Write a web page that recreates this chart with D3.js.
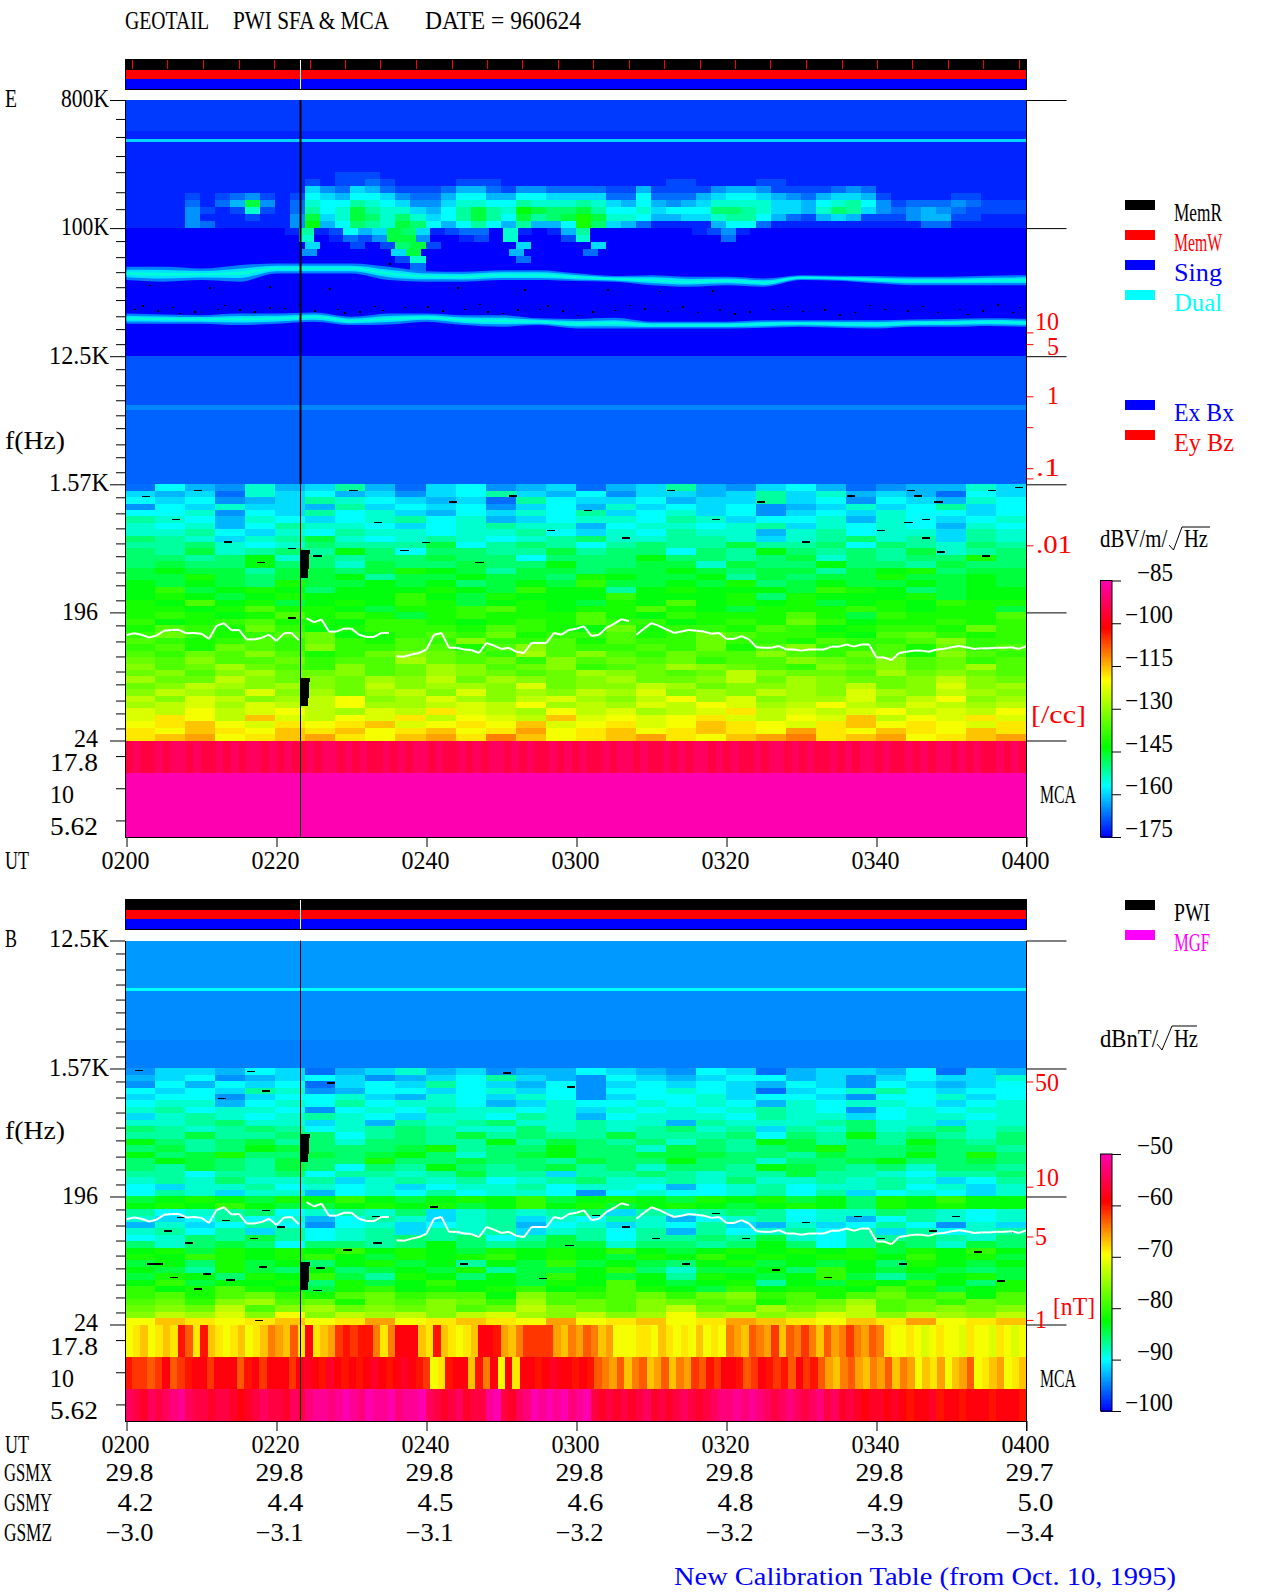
<!DOCTYPE html>
<html lang="en">
<head>
<meta charset="UTF-8">
<title>GEOTAIL PWI SFA & MCA 960624</title>
<script src="https://d3js.org/d3.v7.min.js"></script>
<style>
  body { margin: 0; background: #fff; }
  svg { display: block; }
  text { font-family: "Liberation Serif", serif; font-size: 25px; fill: #000; }
</style>
</head>
<body>
<svg id="chart" width="1280" height="1593"></svg>
<script>
// ---- values ----
const utTicks = [0, 20, 40, 60, 80, 100, 120];            // minutes after 0200
const utLabels = ["0200", "0220", "0240", "0300", "0320", "0340", "0400"];
const gsmx = ["29.8", "29.8", "29.8", "29.8", "29.8", "29.8", "29.7"];
const gsmy = ["4.2", "4.4", "4.5", "4.6", "4.8", "4.9", "5.0"];
const gsmz = ["−3.0", "−3.1", "−3.1", "−3.2", "−3.2", "−3.3", "−3.4"];

const majorHz = [800000, 100000, 12500, 1562.5, 195.3, 24.41];
const topMinorHz = [588000, 439000, 322000, 248000, 179000, 136000];
const octaveMinorRatio = [.81, .624, .489, .383, .311, .239, .194, .152];
const mcaRows = ["17.8", "10", "5.62"];

const statusTicks = [.8, 5.5, 10.3, 15, 19.7, 24.5, 29.2, 33.9, 38.6, 43.4, 48.1, 52.8, 57.6, 62.3, 67, 71.7, 76.5, 81.2, 85.9, 90.7, 95.4, 100.1, 104.8, 109.6, 114.3, 119];
const gapMinute = 23.2;

// density scale on the right, given as the frequency each mark sits at
const eDensityLabels = ["10", "5", "1", ".1", ".01"];
const eDensityHz = [18400, 15200, 6520, 2030, 580];
const eDensityExtraHz = [3950, 1720];
const bFieldLabels = ["50", "10", "5", "1"];
const bFieldHz = [1265, 229, 102, 26.3];

// plasma line, one value a minute (Hz)
const plasmaHz = [135,139,136,130,134,145,147,147,139,140,138,127,157,164,146,147,126,126,129,136,123,139,140,124,
  178,166,174,143,143,150,150,136,131,131,140,140,96,95,98.5,101,107,136,140,110,110,107,106,101,119,114,108,110,103,101,119,119,119,140,136,147,150,
  156,133,136,152,162,175,169,136,150,164,157,148,140,143,147,145,143,138,140,127,127,133,126,111,110,110,113,107,107,105,107,107,107,112,112,116,112,116,116,
  94,94,90,101,103,105,105,103,107,108,111,113,111,108,109,109,110,110,111,108,113];

// data gaps: start, end minute, upper, lower Hz
const gapStart = [23.2, 23.2, 23.2, 23.2, 23.2, 23.2];
const gapEnd = [24.47, 24.33, 24.2, 24.47, 24.33, 24.2];
const gapHi = [542, 508, 392, 67.8, 63.5, 49];
const gapLo = [508, 392, 344, 63.5, 49, 42.9];

// narrow-band traces in the E panel, one value every 5 minutes (kHz)
const traceMinutes = [0,5,10,15,20,25,30,35,40,45,50,55,60,65,70,75,80,85,90,95,100,105,110,115,120];
const upperHi = [53.3,53.3,51.9,54.8,56.3,56.3,56.3,53.3,49.7,49.2,50.5,50.5,48,46,46.6,45.4,45.4,44.2,46.6,46.1,45.9,45.4,45.4,46.1,46.6];
const upperLo = [43,41.9,43,41.9,47.9,47.9,47.9,43,41.9,41.9,43,43,42.3,41.9,39.6,38.6,39.6,38.6,43,42.5,40.8,39.6,39.6,39.6,39.6];
const lowerHi = [25,24.6,24.3,25,25,25.4,23.7,25,25,24.3,24.3,23.1,22.9,23.3,21.9,21.9,21.9,22.4,22.4,22.4,22.4,22.7,22.9,23.1,22.9];
const lowerLo = [21.2,21.2,21.2,20.7,21.2,21.9,20.7,20.9,21.9,20.7,20.15,20.7,19.6,19.6,19.6,19.6,19.6,19.8,20.15,19.8,19.6,20.15,20.15,20.4,20.15];

// constant bands: edges in Hz and the level between them in dB
const eBandEdges = [800000, 483000, 424000, 404000, 278000, 12500, 5640, 5200, 1562.5];
const eBandDb = [-171, -172.5, -160, -172.5, -175, -169, -165.5, -168];
const bBandEdges = [12500, 5780, 5500, 2480, 1562.5];
const bBandDb = [-94, -90, -94.5, -95];

// level cells are one base-36 character each: 0 = bottom of the colour bar, z = top
// emission between 278 kHz and 50.6 kHz, 2 minutes a column
const emissionHi = 278000, emissionLo = 50600;
const emissionRows = [
  "111111111111111111111111111111111111111111111111111111111111",
  "111111111111112221111111111111111111111111111111111111111111",
  "111111111111212232111122211111111111221111221111111111111111",
  "111111111111643653222355324433332252222455422223431111111111",
  "111121234212765776433577557766663373335677654356652111122111",
  "111131 35b41387798764468877988898657545688886657897423334 3222",
  "111142128213978b9886579b98cbaab97786777aa986658a964345432222",
  "111141112114b68ba8a8679b97b9abdb887556689975325652224552 2111",
  "111143111114c57a98ba7579759557da65311115773111111111133 11111",
  "000000000001912756ba612330810159000000012410000000000000000000",
  "000000000000801324bb400120800028000000000300000000000000000000",
  "000000000000600202ab2000006000060000000000000000000000000000",
  "00000000000040000 06b00000050000300000000000000000000000000000",
  "000000000000000000280000003000000000000000000000000000000000",
  "000000000000000000030000000000000000000000000000000000000000"
].map(s => s.replace(/ /g, ""));

// 1.57 kHz down to 24 Hz, 4 minutes a column
const eLowRows = [
  "375485695367456356954675345586","656386756467965746656968565376","767456987656397667566967476587","476866596767467586767456867967",
  "778476978657687967867467687767","987587678978567887986778587678","878579887678988578878968787587","889768798878897687988589788698",
  "a98689b87898789a88998689a89698","99a878a999b79a979a99b99a7a98a9","a9b89a9ca7aa99b9aa7a9ca9a9b89a","aa9ac8a9aabaa7aaacaa9ab8a9aada",
  "abaacaa8baabaacaabb8baacaa9baa","bcbb9bbabdcb9bbabbcbabb9bcdabb","bbdbabbc9bbcbbadcbbc9babbdbbcb","cbcbadbbcbcabcbebbcbdabcbbcbcb",
  "cebcdcacccdcbecc9cdcccbedcabcc","cdcbcdcccecbdcccecccdadcccdbcc","dcfcdbcdcedbcdcbdcfcdcdbcdcedd","ddcdfddcbddefdcddfdcbdddedcddb",
  "dedcdfdedbdedddfdcedddfdbedddf","ecdefddceedcdedfeecdedgecddede","dfedgecdeeedfedcgdeedfecdeedge","egedefgcdefegdeefdegfeedcfgede",
  "fedefegedfeheefdfeegeedfeefhee","efdgfeheeffdfhfeefegdfheefdgef","fegfhfdeghgfeifhfegffhfegfdhfe","gfhffgeffigfgehfgfgeffhgfhfgef",
  "hfgigfehfgihfghefgihgfehghfgif","ghfhigghfgihgfgihgfgjhggfighgf","iggjhghgihjgihghigghjgihgghjhg","ghjihihgjhiihkghhjighhihjghkhi",
  "hjihkhigijhkhihjikhihjihkihjih","jhkjhijlhikihjkihjlikhiikhjlhi","ijkikjjliijkjlijikjlkijljikjij","kjljkljikjmkjiljkijkmjkjkljkjl",
  "kmljnkjlkmjlkjnklklmkjlknjlkmk","lmnlkmlmnklmlnklmklnmlkmnlmlkm","mlnmlnmnlmnlmolmnlmnmlomlnmlnm","mnolmnomlnompnlmnomlnopmnolmno"
];
const bLowRows = [
  "466576356856455765476356657365","567456764567965476567756467668","475767367697657467676576476567","767698457767867477876367897677",
  "677467786587687467786776477867","788578797887568778787587887678","897887478798878687878987478788","689878987688798578887988678878",
  "889a88685989a88988598889a88688","a989a9789a988a8989a89698a89a89","99b99aa79a9b9a99b999a7a9c9a98a","ca9ab9a8aa99c9ba9a8a9cb9a9ca9a",
  "ab9acbaaabd9aacaa8ba9abdaabaa9","cabdaababca8abcaabbbaa9baacada","acba9baadaabaa9baacaa8aabcaaba","a9ba9ba7a9ca9ab9a8aa9cba9a8aa9",
  "99799a79989b99699a9899b998799a","898a88968989789a8898a889898679","768897878678897887578978897868","798688578797887478778979678768",
  "bcdcbdcecbcdcebcdcbdcdbcadcecc","cdcecbbcdcdbcecdbcdcbcdcadcdcc","9789a7898a68989a6989a9788a9878","867978579868968798578978579878",
  "586797478678957868796586797486","897969789698968979597897969789","78a9b9789a9a79b9799a9b8799a98a","a8aba7aa9aca9abb8aa9aca79ba8ba",
  "cdbdcdcecdcbdcdcecbcdcdcdbdcec","dcedcdecbdcdecdcbdcecdcddcecdb","bcadbcacdbc9cbebcbacdbcbcadcbc","cb9dbacabcbd9bbcea8bbcaecbcbab",
  "bdcadceb9dcacbecbc9dcbceb9bcdb","cebccdadbceccbdcfcbcd9cbdcecad","ecdfdcbdecdcdecdfdcbecddcfdbcd","efdfgedfgeffchfefgeghefdfgefcf",
  "fgehifgdgfhgeifgfhgfgdfgifgegf","ghgjfhighghfgjhgfhjgfighjfghgh","hjikhlhjijhjkihjhilijhikjhjihj","lnmlmnlmolmnmlolmnlmonmlnmolmn"
];

// MCA channels, one character a column
const eMcaRows = [
  "vwvvwvwwvwvvwvwvwwvwvwvvwvwwvwvwvvwvwvwwvwvvwvwvwwvwvwvvwvwvwvvwvwwvwvvwvwvwwvwvwvvwvwwvwvwvvwvwvwwvwvvwvwvwwvwvwvvwvwv",
  "zzzzzzzzzzzzzzzzzzzzzzzzzzzzzzzzzzzzzzzzzzzzzzzzzzzzzzzzzzzz",
  "zzzzzzzzzzzzzzzzzzzzzzzzzzzzzzzzzzzzzzzzzzzzzzzzzzzzzzzzzzzz"
];
const bMcaRows = [
  "lmnlmnmsqmsnmlmnlmnponqmtmnorsrsspmptttnmsnmlmnttsonprrrronpoqpnolllmmlnmlmlnlmlponqpornqprpnqoprpoqpmllmlklmllkmllkmlkl",
  "srrqrtqrsttrtttqstrtttrtutsutststutstutsrlmsttnsptltmttstuttstsqpoqnpqnoqnporqsrttsqrtsrsqtrsqonpqonpoqnpolnmolnoqlmnolmn",
  "wvuwvwxywvvuvvutuvwvvuwvxyyxyzyxzyyzxyyzwvuvwuvvyzvuwxzyzyzxyzvuvuvuvwuvuvwvuvwxxyxyxwvwxwvwxvwuvutuututsttusttstttsttts"
];

// black specks near the E traces: minute, Hz
const speckMinute = [1,4,6,9,12,15,17,21,25,28,31,34,37,42,45,48,52,55,58,62,65,69,72,76,79,83,86,90,93,97,101,104,108,111,114,118,3,11,19,27,35,44,53,64,71,78,
  2,7,13,19,23,29,33,40,47,50,56,60,67,74,81,88,95,99,106,112,116,119];
const speckHz = [27100,26300,27800,25900,27100,26700,26000,27500,26300,27100,25900,26600,27800,26300,27100,25900,26700,27000,26300,26000,26600,27300,26200,25700,26700,25900,27000,26200,26800,25800,27100,26400,25700,26900,26300,25800,40000,38200,39000,37600,56500,38400,37200,37000,36300,36600,
  28600,25400,28900,27700,29000,25600,28300,28100,29200,25300,28500,24500,28700,28200,25000,28400,24600,28800,28300,24900,29100,28000];

// short black dashes in the low-frequency streaks: minute, Hz
const eDashMinute = [2,6,9,13,17.4,21.5,24.9,29.7,33,36.5,39.4,43,46.5,51,56,61,66,72,78,84,90,96,100,104,105,107.7,114.8,118.4,103.7,106,108,114,106,21.5];
const eDashHz = [1300,895,1434,620,446,559,493,1434,853,542,617,1182,446,1303,750,1035,659,1434,895,1182,620,1303,750,1434,1303,1182,1434,1500,853,895,525,493,659,180];
const bDashMinute = [1.1,16,12.2,26.7,50.2,58.7,18,18,12.7,5,7.8,16.4,2.7,3.8,5.8,13.3,10.2,17.6,58.5,32.7,40.4,25.3,24.9,17.1,44.4,28.9,32.9,62,66,70,74,78,82,86,90,93,97,100,103,107,110,113,116,118,55,6.7,9,20];
const bDashHz = [1533,1508,975,1253,1476,1169,1096,157,134,113,93,100,66,66,53,51,56,63,89,143,167,62,43,26.3,66,83,93,145,120,100,66,150,100,60,130,53,143,100,66,113,143,80,50,110,52,140,44,120];

// ---- layout ----
const svg = d3.select("#chart");
const plotLeft = 125, plotRight = 1026.5;
const x = d3.scaleLinear().domain([0, 120]).range([126.5, 1026.5]);
const cellColor = d3.scaleLinear()
  .domain([0, .2, .35, .61, .815, 1])
  .range(["#0000ff", "#00ffff", "#00ff00", "#ffff00", "#ff0000", "#ff00b0"]);

// monospaced looking label, y is the middle of the figures
function label(g, px, py, str, opt = {}) {
  const w = str.length * (opt.cell || 12);
  const left = opt.end ? px - w : px;
  return g.append("text").attr("x", left).attr("y", py + 8.5)
    .attr("textLength", w).attr("lengthAdjust", "spacingAndGlyphs")
    .style("fill", opt.fill || "#000").text(str);
}

function heat(g, rows, y0, y1, left = plotLeft, right = plotRight) {
  const rowBand = d3.scaleBand().domain(d3.range(rows.length)).range([y0, y1]);
  rows.forEach((row, i) => {
    const cols = Array.from(row);
    const colBand = d3.scaleBand().domain(d3.range(cols.length)).range([left, right]);
    g.append("g").selectAll("rect").data(cols).join("rect")
      .attr("x", (d, j) => colBand(j)).attr("y", rowBand(i))
      .attr("width", colBand.bandwidth() + .5).attr("height", rowBand.bandwidth() + .5)
      .attr("fill", d => cellColor(parseInt(d, 36) / 35));
  });
}

function statusBar(top, withTicks) {
  const g = svg.append("g").attr("shape-rendering", "crispEdges");
  [["#000", 0, 10.5], ["#f00", 10.5, 20], ["#00f", 20, 30]].forEach(b => {
    g.append("rect").attr("x", plotLeft).attr("y", top + b[1]).attr("width", plotRight - plotLeft)
      .attr("height", b[2] - b[1]).attr("fill", b[0]);
  });
  g.append("rect").attr("x", plotLeft).attr("y", top).attr("width", plotRight - plotLeft).attr("height", 30.5)
    .attr("fill", "none").attr("stroke", "#000");
  if (withTicks) g.selectAll(".st").data(statusTicks).join("line")
    .attr("x1", d => x(d)).attr("x2", d => x(d)).attr("y1", top + 1).attr("y2", top + 10)
    .attr("stroke", "#f00");
  g.append("line").attr("x1", x(gapMinute)).attr("x2", x(gapMinute)).attr("y1", top + 1).attr("y2", top + 30)
    .attr("stroke", "#fff");
}

function panel(cfg) {
  const y = cfg.y, g = svg.append("g");
  const cells = g.append("g").attr("shape-rendering", "crispEdges");
  const mcaBottom = cfg.bottom, mcaTop = y(majorHz[5]);
  const dbColor = d => cellColor((d - cfg.dbMin) / (cfg.dbMax - cfg.dbMin));

  // constant bands
  cells.selectAll(".band").data(cfg.bandDb).join("rect")
    .attr("x", plotLeft).attr("width", plotRight - plotLeft)
    .attr("y", (d, i) => y(cfg.bandEdges[i])).attr("height", (d, i) => y(cfg.bandEdges[i + 1]) - y(cfg.bandEdges[i]))
    .attr("fill", dbColor);

  if (cfg.extra) cfg.extra(g, cells, dbColor);
  heat(cells, cfg.lowRows, y(majorHz[3]), mcaTop);

  // MCA
  const mca = d3.scaleBand().domain(mcaRows).range([mcaTop, mcaBottom]);
  heat(cells, cfg.mcaRows, mcaTop, mcaBottom);

  // black dashes and data gaps
  cells.selectAll(".dash").data(cfg.dashMinute).join("rect")
    .attr("x", d => x(d)).attr("y", (d, i) => y(cfg.dashHz[i]))
    .attr("width", x(1.1) - x(0)).attr("height", 1.5).attr("fill", "#000");
  cells.selectAll(".gap").data(gapStart).join("rect")
    .attr("x", d => x(d)).attr("width", (d, i) => x(gapEnd[i]) - x(d))
    .attr("y", (d, i) => y(gapHi[i])).attr("height", (d, i) => y(gapLo[i]) - y(gapHi[i]))
    .attr("fill", "#000");

  // plasma line, broken where it jumps
  const pts = plasmaHz.map((f, i) => [i, f]);
  g.append("g").selectAll("line").data(d3.pairs(pts).filter(p => Math.abs(p[0][1] - p[1][1]) < 32)).join("line")
    .attr("x1", p => x(p[0][0])).attr("y1", p => y(p[0][1]))
    .attr("x2", p => x(p[1][0])).attr("y2", p => y(p[1][1]))
    .attr("stroke", "#fff").attr("stroke-width", 2);

  // gap line through the panel
  g.append("line").attr("x1", x(gapMinute)).attr("x2", x(gapMinute))
    .attr("y1", y(majorHz[cfg.firstMajor])).attr("y2", y(cfg.thickTo)).attr("stroke", "#000").attr("stroke-width", cfg.gapWidth);
  g.append("line").attr("x1", x(gapMinute)).attr("x2", x(gapMinute))
    .attr("y1", y(cfg.thickTo)).attr("y2", mcaBottom).attr("stroke", "#000");

  // frame
  const frame = g.append("g").attr("shape-rendering", "crispEdges").attr("stroke", "#000");
  frame.append("line").attr("x1", plotLeft).attr("x2", plotLeft).attr("y1", y(majorHz[cfg.firstMajor])).attr("y2", mcaBottom);
  frame.append("line").attr("x1", plotRight).attr("x2", plotRight).attr("y1", y(majorHz[cfg.firstMajor])).attr("y2", mcaBottom + 10);
  frame.append("line").attr("x1", plotLeft).attr("x2", plotRight).attr("y1", mcaBottom).attr("y2", mcaBottom);

  // frequency axes
  const majors = majorHz.slice(cfg.firstMajor);
  const octaves = majors.slice(cfg.topMinor.length ? 1 : 0, -1);
  const minors = cfg.topMinor.concat(octaves.flatMap(m => octaveMinorRatio.map(r => m * r)));
  const left = g.append("g").attr("transform", `translate(${plotLeft},0)`);
  left.append("g").call(d3.axisLeft(y).tickValues(majors).tickSize(15).tickFormat(""));
  left.append("g").call(d3.axisLeft(y).tickValues(minors).tickSize(9).tickFormat(""));
  left.append("g").call(d3.axisLeft(mca).tickSize(9).tickFormat(""));
  left.selectAll(".domain").remove();
  g.append("g").attr("transform", `translate(${plotRight},0)`)
    .call(d3.axisRight(y).tickValues(majors).tickSize(40).tickFormat(""))
    .select(".domain").remove();

  // time axis
  const ax = g.append("g").attr("transform", `translate(0,${mcaBottom})`)
    .call(d3.axisBottom(x).tickValues(utTicks).tickSize(10).tickFormat(""));
  ax.select(".domain").remove();
  utLabels.forEach((s, i) => label(g, x(utTicks[i]) - 25, mcaBottom + 23, s));
  label(g, 5, mcaBottom + 23, "UT");

  // frequency labels
  cfg.freqLabels.forEach(d => label(g, d.px, d.py, d.s, { end: d.end }));
  mcaRows.forEach((s, i) => {
    const py = mca(s) + mca.bandwidth() / 2 + 5.5;
    if (i === 0) label(g, 98, py, s, { end: true }); else label(g, 50, py, s);
  });
  label(g, 5, cfg.fLabelY, "f(Hz)");
  label(g, 5, cfg.nameY, cfg.name);
  label(g, 1040, cfg.mcaLabelY, "MCA");

  // density or field marks on the right
  const marks = g.append("g").attr("transform", `translate(${plotRight},0)`);
  marks.append("g").call(d3.axisRight(y).tickValues(cfg.markHz).tickSize(7).tickFormat(""))
    .call(s => s.select(".domain").remove())
    .selectAll("line").attr("stroke", "#f00");
  cfg.markLabels.forEach((s, i) => label(g, cfg.markX[i], y(cfg.markLabelHz[i]) + cfg.markDy[i], s, { fill: "#f00" }));

  // colour bar
  const bar = d3.scaleLinear().domain([cfg.dbMax, cfg.dbMin]).range([cfg.barTop, cfg.barBottom]);
  const step = (cfg.dbMax - cfg.dbMin) / 200;
  g.append("g").attr("shape-rendering", "crispEdges").selectAll("rect").data(d3.range(cfg.dbMin, cfg.dbMax, step)).join("rect")
    .attr("x", 1101).attr("width", 11).attr("y", d => bar(d + step)).attr("height", bar(0) - bar(step) + .7).attr("fill", dbColor);
  g.append("rect").attr("x", 1100.5).attr("y", cfg.barTop).attr("width", 11.5).attr("height", cfg.barBottom - cfg.barTop)
    .attr("fill", "none").attr("stroke", "#000");
  g.append("g").attr("transform", "translate(1112,0)")
    .call(d3.axisRight(bar).tickValues(cfg.barTicks).tickSize(9).tickFormat(""))
    .select(".domain").remove();
  cfg.barTicks.forEach(t => label(g, 1173, bar(t) - 8.5, "−" + Math.abs(t), { end: true }));
}

// ---- title, status bars, legends ----
const titleG = svg.append("g");
label(titleG, 125, 20, "GEOTAIL");
label(titleG, 233, 20, "PWI SFA & MCA");
label(titleG, 425, 20, "DATE = 960624");
statusBar(59, true);
statusBar(899, false);

const legendNames = ["MemR", "MemW", "Sing", "Dual", "Ex Bx", "Ey Bz", "PWI", "MGF"];
const legendColors = ["#000", "#f00", "#00f", "#0ff", "#00f", "#f00", "#000", "#f0f"];
const legendY = [205, 235, 265, 295, 405, 435, 905, 935];
legendNames.forEach((s, i) => {
  svg.append("rect").attr("x", 1125).attr("y", legendY[i] - 5).attr("width", 30).attr("height", 10).attr("fill", legendColors[i]);
  label(svg, 1174, legendY[i] + 7, s, { fill: legendColors[i] });
});

// ---- E panel ----
const yE = d3.scaleLog().domain([800000, 24.41]).range([100, 740.5]);
panel({
  name: "E", nameY: 98, y: yE, bottom: 837, firstMajor: 0, topMinor: topMinorHz,
  bandEdges: eBandEdges, bandDb: eBandDb, lowRows: eLowRows, mcaRows: eMcaRows,
  dashMinute: eDashMinute, dashHz: eDashHz, dbMin: -175, dbMax: -85,
  barTop: 580.5, barBottom: 837, barTicks: [-85, -100, -115, -130, -145, -160, -175],
  thickTo: 1562.5, gapWidth: 2, fLabelY: 440, mcaLabelY: 794,
  freqLabels: [
    { s: "800K", px: 109, py: 98, end: true }, { s: "100K", px: 109, py: 226, end: true },
    { s: "12.5K", px: 109, py: 355, end: true }, { s: "1.57K", px: 109, py: 482, end: true },
    { s: "196", px: 98, py: 611, end: true }, { s: "24", px: 98, py: 738, end: true }
  ],
  markHz: eDensityHz.concat(eDensityExtraHz), markLabels: eDensityLabels, markLabelHz: eDensityHz,
  markX: [1035, 1047, 1047, 1036, 1036], markDy: [-11, 2, -1, -1, -1],
  extra(g, cells, dbColor) {
    heat(cells, emissionRows, yE(emissionHi), yE(emissionLo));
    // narrow-band traces as nested bands
    const traces = [[upperHi, upperLo], [lowerHi, lowerLo]];
    const layers = [[0, -166], [.22, -159], [.4, -155]];
    traces.forEach(t => layers.forEach(l => {
      const area = d3.area().x(d => x(d)).curve(d3.curveMonotoneX)
        .y0((d, i) => { const a = yE(t[0][i] * 1000), b = yE(t[1][i] * 1000); return a + (b - a) * l[0]; })
        .y1((d, i) => { const a = yE(t[0][i] * 1000), b = yE(t[1][i] * 1000); return b - (b - a) * l[0]; });
      g.append("path").attr("d", area(traceMinutes)).attr("fill", dbColor(l[1]));
    }));
    g.append("g").attr("shape-rendering", "crispEdges").selectAll("rect").data(speckMinute).join("rect")
      .attr("x", d => x(d)).attr("y", (d, i) => yE(speckHz[i])).attr("width", 2).attr("height", 1.5).attr("fill", "#000");
  }
});
const rightE = svg.append("g");
label(rightE, 1031, 714, "[/cc]", { fill: "#f00", cell: 11 });
label(rightE, 1100, 538, "dBV/m/", { cell: 11.2 });
label(rightE, 1184, 538, "Hz");
rightE.append("path").attr("d", "M1169,545L1173.5,550L1182,527H1210").attr("fill", "none").attr("stroke", "#000");

// ---- B panel ----
const yB = d3.scaleLog().domain([12500, 24.41]).range([940.5, 1324.5]);
panel({
  name: "B", nameY: 938, y: yB, bottom: 1421, firstMajor: 2, topMinor: [],
  bandEdges: bBandEdges, bandDb: bBandDb, lowRows: bLowRows, mcaRows: bMcaRows,
  dashMinute: bDashMinute, dashHz: bDashHz, dbMin: -100, dbMax: -50,
  barTop: 1154, barBottom: 1411, barTicks: [-50, -60, -70, -80, -90, -100],
  thickTo: 12500, gapWidth: 1, fLabelY: 1130, mcaLabelY: 1378,
  freqLabels: [
    { s: "12.5K", px: 109, py: 938, end: true }, { s: "1.57K", px: 109, py: 1067, end: true },
    { s: "196", px: 98, py: 1195, end: true }, { s: "24", px: 98, py: 1322, end: true }
  ],
  markHz: bFieldHz, markLabels: bFieldLabels, markLabelHz: bFieldHz,
  markX: [1035, 1035, 1035, 1035], markDy: [1, -9, 0, 0]
});
const rightB = svg.append("g");
label(rightB, 1053, 1306, "[nT]", { fill: "#f00", cell: 10.5 });
label(rightB, 1100, 1038, "dBnT/", { cell: 11.6 });
label(rightB, 1174, 1038, "Hz");
rightB.append("path").attr("d", "M1157,1044L1162,1050L1172,1026H1197").attr("fill", "none").attr("stroke", "#000");

// ---- bottom table ----
const tableG = svg.append("g");
[["GSMX", gsmx, 1472], ["GSMY", gsmy, 1502], ["GSMZ", gsmz, 1532]].forEach(r => {
  label(tableG, 4, r[2], r[0]);
  r[1].forEach((s, i) => label(tableG, x(utTicks[i]) + 27, r[2], s, { end: true }));
});
label(tableG, 674, 1576, "New Calibration Table (from Oct. 10, 1995)", { fill: "#00f", cell: 11.95 });
</script>
</body>
</html>
